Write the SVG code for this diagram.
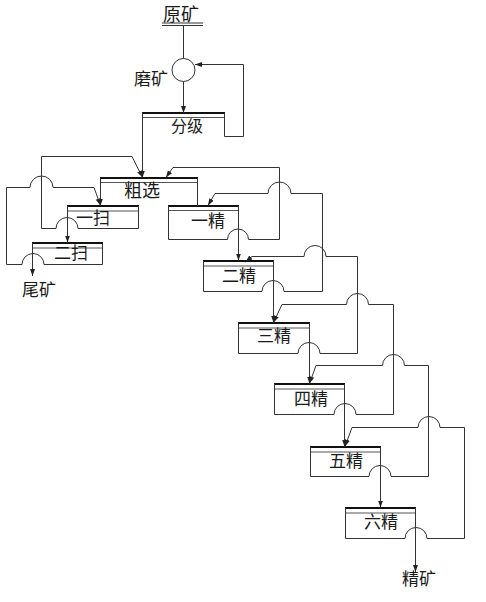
<svg xmlns="http://www.w3.org/2000/svg" width="486" height="602" viewBox="0 0 486 602">
<defs>
<marker id="ah" markerUnits="userSpaceOnUse" markerWidth="8" markerHeight="6" refX="7" refY="2.5" orient="auto">
<path d="M0,0 L7,2.5 L0,5 z" fill="#222"/>
</marker>
<style>
.ln{fill:none;stroke:#333;stroke-width:1}
.top{fill:none;stroke:#111;stroke-width:2}
.thin{fill:none;stroke:#555;stroke-width:1}
.t{font-family:"Noto Sans CJK SC","Noto Sans CJK TC",sans-serif;font-size:17px;fill:#1a1a1a}
.c{fill:none;stroke:#333;stroke-width:1;marker-end:url(#ah)}
</style>
</defs>
<rect width="486" height="602" fill="#fff"/>

<g id="ore">
<text class="t" x="163" y="21" style="font-size:18px">原矿</text>
<path class="ln" d="M162,23 H203 M162,25.5 H203"/>
</g>
<g id="mill">
<circle class="ln" cx="183.5" cy="70" r="11.5"/>
<text class="t" x="134" y="85">磨矿</text>
</g>
<g id="classifier">
<path class="top" d="M142,113 H225"/>
<path class="thin" d="M142,117.5 H225"/>
<path class="ln" d="M142.5,113 V136 M224.5,113 V136.5"/>
<text class="t" x="171" y="132" style="font-size:16px">分级</text>
</g>
<g id="rougher">
<path class="top" d="M100,178 H198"/>
<path class="thin" d="M100,182.5 H198"/>
<path class="ln" d="M100.5,178 V190 M197.5,178 V190"/>
<text class="t" x="124" y="197" style="font-size:18px">粗选</text>
</g>
<g id="scav1">
<path class="top" d="M67,206 H139"/>
<path class="thin" d="M67,211 H139"/>
<path class="ln" d="M67.5,206 V228.5 M138.5,206 V228.5 H78"/>
<text class="t" x="76" y="224">一扫</text>
</g>
<g id="scav2">
<path class="top" d="M32,243 H103"/>
<path class="thin" d="M32,248 H103"/>
<path class="ln" d="M32.5,243 V264.5 M102.5,243 V264.5 H44"/>
<text class="t" x="54" y="259">二扫</text>
</g>
<g id="tailings">
<text class="t" x="22" y="296">尾矿</text>
</g>
<g id="clean1">
<path class="top" d="M168,206 H239"/>
<path class="thin" d="M168,210.5 H239"/>
<path class="ln" d="M238.5,206 V239.5 M168.5,206 V239.5 H227.5"/>
<text class="t" x="191" y="227">一精</text>
</g>
<g id="clean2">
<path class="top" d="M203,261 H274"/>
<path class="thin" d="M203,266 H274"/>
<path class="ln" d="M273.5,261 V291.5 M203.5,261 V291.5 H262"/>
<text class="t" x="222" y="282">二精</text>
</g>
<g id="clean3">
<path class="top" d="M238,323 H310"/>
<path class="thin" d="M238,328 H310"/>
<path class="ln" d="M309.5,323 V353.5 M238.5,323 V353.5 H298"/>
<text class="t" x="257" y="342">三精</text>
</g>
<g id="clean4">
<path class="top" d="M274,384 H345"/>
<path class="thin" d="M274,389 H345"/>
<path class="ln" d="M344.5,384 V414.5 M274.5,384 V414.5 H334"/>
<text class="t" x="294" y="405">四精</text>
</g>
<g id="clean5">
<path class="top" d="M310,447 H381"/>
<path class="thin" d="M310,452 H381"/>
<path class="ln" d="M380.5,447 V476.5 M310.5,447 V476.5 H369"/>
<text class="t" x="329" y="467">五精</text>
</g>
<g id="clean6">
<path class="top" d="M345,508 H416"/>
<path class="thin" d="M345,513 H416"/>
<path class="ln" d="M415.5,508 V538.5 M345.5,508 V538.5 H405"/>
<text class="t" x="364" y="528">六精</text>
</g>
<g id="concentrate">
<text class="t" x="402" y="585">精矿</text>
</g>

<g id="connectors">
<path class="ln" d="M183.5,25.5 V58.5"/>
<path class="c" d="M183.5,81.5 V113"/>
<path class="c" d="M142.5,113 V177.5"/>
<path class="c" d="M224.5,136.5 H243.5 V64.5 H195"/>
<path class="ln" d="M197.5,178 V206"/>
<path class="c" d="M100.5,178 V205.5"/>
<path class="c" d="M78,228.5 A11,11 0 0 0 56,228.5 H41.5 V156.5 H132 L142.5,177.5"/>
<path class="c" d="M67.5,206 V242.5"/>
<path class="c" d="M44,264.5 A11,11 0 0 0 22,264.5 H6.5 V187.5 H30 A11.5,11.5 0 0 1 53,187.5 H94 L100.5,205.5"/>
<path class="c" d="M32.5,243 V276"/>
<path class="c" d="M227.5,239.5 A10.5,10.5 0 0 1 248.5,239.5 H279.5 V167.5 H173 L166,177.5"/>
<path class="c" d="M238.5,206 V260.5"/>
<path class="c" d="M262,291.5 A11,11 0 0 1 284,291.5 H322.5 V193.5 H291 A11.5,11.5 0 0 0 268,193.5 H215 L208,205.5"/>
<path class="c" d="M273.5,261 V322.5"/>
<path class="c" d="M298,353.5 A11,11 0 0 1 320,353.5 H357.5 V256.5 H326 A11,11 0 0 0 304,256.5 H252 L245.5,262"/>
<path class="c" d="M309.5,323 V383.5"/>
<path class="c" d="M334,414.5 A11,11 0 0 1 356,414.5 H393.5 V304.5 H368.5 A11,11 0 0 0 346.5,304.5 H282 L273.5,322.5"/>
<path class="c" d="M344.5,384 V446.5"/>
<path class="c" d="M369,476.5 A11,11 0 0 1 391,476.5 H428.5 V365.5 H404.5 A11,11 0 0 0 382.5,365.5 H316 L309.5,383.5"/>
<path class="c" d="M380.5,447 V507.5"/>
<path class="c" d="M405,538.5 A11,11 0 0 1 427,538.5 H464.5 V427.5 H440 A11,11 0 0 0 418,427.5 H352 L345,446.5"/>
<path class="c" d="M415.5,508 V572"/>
</g>
</svg>
